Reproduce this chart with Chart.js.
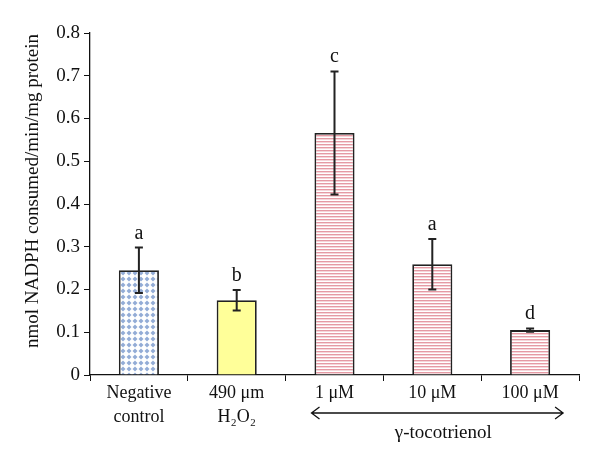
<!DOCTYPE html>
<html>
<head>
<meta charset="utf-8">
<script src="https://cdn.jsdelivr.net/npm/chart.js@4"></script>
<style>
    html, body { margin: 0; padding: 0; background: #fff; }
    #wrap { width: 600px; height: 457px; }
</style>
</head>
<body>
<div id="wrap"><canvas id="chart" width="600" height="457"></canvas></div>
<script>
// Datos
const categories = [['Negative', 'control'], ['490 \u03bcm', 'H\u2082O\u2082'], '1 \u03bcM', '10 \u03bcM', '100 \u03bcM'];
const meanValues = [0.245, 0.175, 0.566, 0.259, 0.105];
const errorValues = [0.053, 0.024, 0.144, 0.059, 0.004];
const letters = ['a', 'b', 'c', 'a', 'd'];
const yTicks = [0, 0.1, 0.2, 0.3, 0.4, 0.5, 0.6, 0.7, 0.8];
const yTitle = 'nmol NADPH consumed/min/mg protein';
const groupLabel = '\u03b3-tocotrienol';

const serif = '"Liberation Serif", "DejaVu Serif", serif';

// Patrones de relleno
const makePattern = (w, h, draw) => {
    const c = document.createElement('canvas');
    c.width = w; c.height = h;
    const g = c.getContext('2d');
    g.fillStyle = '#ffffff';
    g.fillRect(0, 0, w, h);
    draw(g);
    return c.getContext('2d').createPattern(c, 'repeat');
};

const ctx = document.getElementById('chart').getContext('2d');
const diamonds = makePattern(6, 6, g => {
    g.fillStyle = '#93acd6';
    g.beginPath();
    g.moveTo(3, 0.5); g.lineTo(5.5, 3); g.lineTo(3, 5.5); g.lineTo(0.5, 3);
    g.closePath();
    g.fill();
});
const stripes = makePattern(4, 3, g => {
    g.fillStyle = '#e59aa4';
    g.fillRect(0, 0, 4, 1.4);
});
const fills = [diamonds, '#ffff99', stripes, stripes, stripes];

// Barras de error, letras, titulo del eje y flecha del grupo
const extrasPlugin = {
    id: 'extras',
    afterDatasetsDraw(chart) {
        const { ctx: c, scales: { x, y } } = chart;
        const meta = chart.getDatasetMeta(0);
        c.save();
        c.strokeStyle = '#222';
        c.lineWidth = 2;
        meta.data.forEach((bar, i) => {
            const top = y.getPixelForValue(meanValues[i] + errorValues[i]);
            const bot = y.getPixelForValue(meanValues[i] - errorValues[i]);
            c.beginPath();
            c.moveTo(bar.x, top); c.lineTo(bar.x, bot);
            c.moveTo(bar.x - 4, top); c.lineTo(bar.x + 4, top);
            c.moveTo(bar.x - 4, bot); c.lineTo(bar.x + 4, bot);
            c.stroke();
            c.fillStyle = '#111';
            c.font = '20px ' + serif;
            c.textAlign = 'center';
            c.textBaseline = 'alphabetic';
            c.fillText(letters[i], bar.x, top - 9);
        });

        // Titulo del eje Y
        c.save();
        c.translate(33, 191);
        c.rotate(-Math.PI / 2);
        c.font = '19px ' + serif;
        c.textAlign = 'center';
        c.textBaseline = 'middle';
        c.fillText(yTitle, 0, 0);
        c.restore();

        // Flecha del grupo
        const x0 = x.getPixelForValue(2) - 23;
        const x1 = x.getPixelForValue(4) + 33;
        const ay = 413;
        c.strokeStyle = '#111';
        c.lineWidth = 1.3;
        c.beginPath();
        c.moveTo(x0, ay); c.lineTo(x1, ay);
        c.moveTo(x0 + 8, ay - 6); c.lineTo(x0, ay); c.lineTo(x0 + 8, ay + 6);
        c.moveTo(x1 - 8, ay - 6); c.lineTo(x1, ay); c.lineTo(x1 - 8, ay + 6);
        c.stroke();
        c.font = '19px ' + serif;
        c.textAlign = 'center';
        c.textBaseline = 'alphabetic';
        c.fillText(groupLabel, (x0 + x1) / 2 + 6, 438);
        c.restore();
    }
};

new Chart(ctx, {
    type: 'bar',
    data: {
        labels: categories,
        datasets: [{
            data: meanValues,
            backgroundColor: fills,
            borderColor: '#222',
            borderWidth: 1.8,
            borderSkipped: 'bottom',
            barPercentage: 0.41,
            categoryPercentage: 1
        }]
    },
    options: {
        responsive: false,
        animation: false,
        layout: { padding: { top: 33, right: 21, left: 6, bottom: 0 } },
        plugins: { legend: { display: false }, tooltip: { enabled: false } },
        scales: {
            x: {
                grid: { drawOnChartArea: false, color: '#111', tickLength: 6, offset: true },
                border: { color: '#111', width: 1.3 },
                ticks: { color: '#111', font: { family: serif, size: 18, lineHeight: 1.3 }, padding: 1, maxRotation: 0 },
                afterFit: s => { s.height = 82; }
            },
            y: {
                min: 0, max: 0.8,
                afterBuildTicks: s => { s.ticks = yTicks.map(v => ({ value: v })); },
                grid: { drawOnChartArea: false, color: '#111', tickLength: 6 },
                border: { color: '#111', width: 1.3 },
                ticks: { color: '#111', font: { family: serif, size: 19 }, padding: 4 },
                afterFit: s => { s.width = 84; }
            }
        }
    },
    plugins: [extrasPlugin]
});
</script>
</body>
</html>
